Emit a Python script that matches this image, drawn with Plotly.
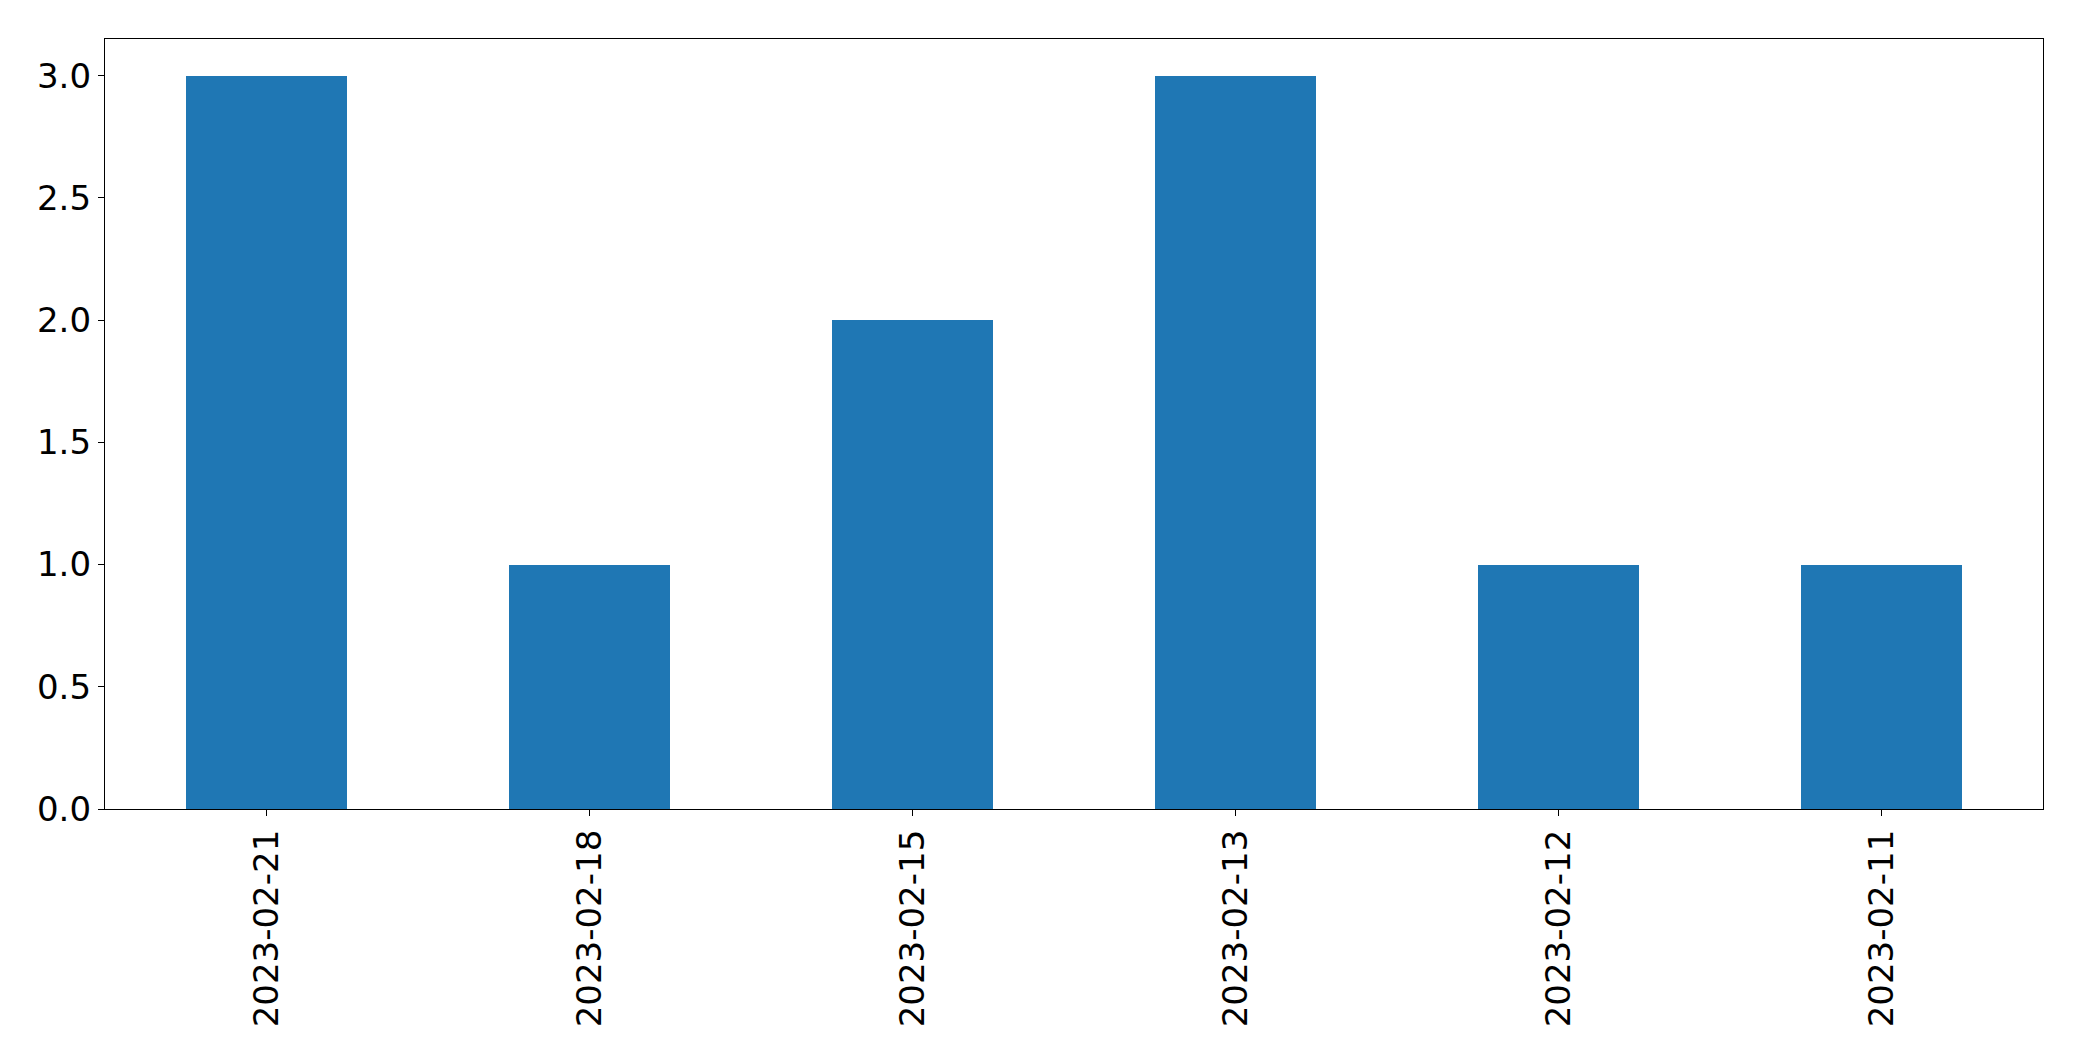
import plotly.graph_objects as go

dates = ["2023-02-21", "2023-02-18", "2023-02-15", "2023-02-13", "2023-02-12", "2023-02-11"]
counts = [3, 1, 2, 3, 1, 1]
y_ticks = [0.0, 0.5, 1.0, 1.5, 2.0, 2.5, 3.0]
y_tick_labels = ["0.0", "0.5", "1.0", "1.5", "2.0", "2.5", "3.0"]

fig = go.Figure(go.Bar(x=list(range(len(dates))), y=counts, width=0.5,
                       marker=dict(color="#1f77b4", line=dict(width=0))))

font = dict(family="DejaVu Sans", size=34, color="black")
fig.update_layout(
    width=2074, height=1053,
    margin=dict(l=97, r=39, t=31, b=252),
    plot_bgcolor="white", paper_bgcolor="white",
    showlegend=False, bargap=0,
)
fig.update_xaxes(range=[-0.5, len(dates) - 0.5], tickmode="array",
                 tickvals=list(range(len(dates))), ticktext=dates, tickangle=-90,
                 showline=True, linecolor="black", linewidth=1.3, mirror=True,
                 ticks="outside", ticklen=6, tickwidth=1.3, tickcolor="black",
                 showgrid=False, zeroline=False, tickfont=font)
fig.update_yaxes(range=[0, 3.15], tickmode="array", tickvals=y_ticks, ticktext=y_tick_labels,
                 showline=True, linecolor="black", linewidth=1.3, mirror=True,
                 ticks="outside", ticklen=6, tickwidth=1.3, tickcolor="black",
                 showgrid=False, zeroline=False, tickfont=font)

fig.write_html("out.html")
